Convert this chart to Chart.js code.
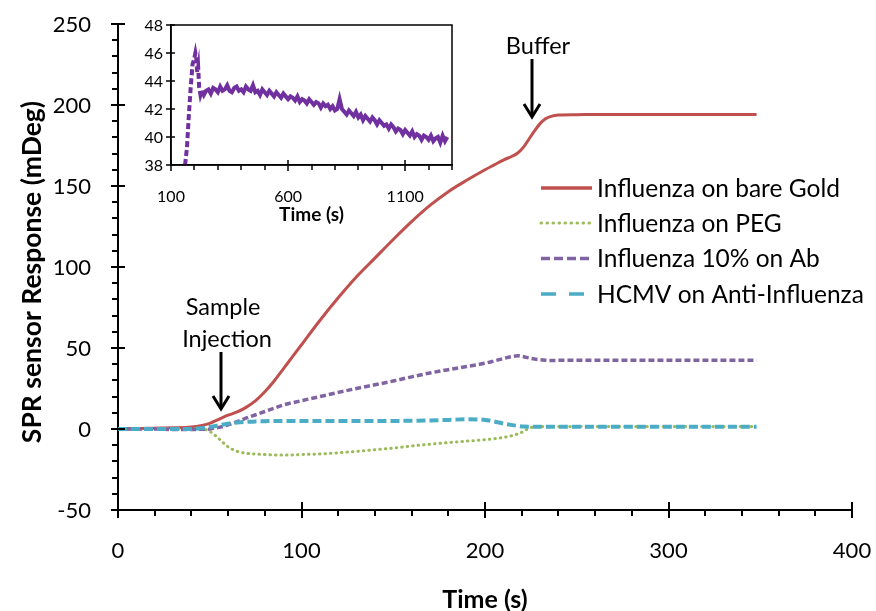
<!DOCTYPE html>
<html>
<head>
<meta charset="utf-8">
<script src="https://cdn.jsdelivr.net/npm/chart.js@4.4.1/dist/chart.umd.min.js"></script>
<style>
  html, body { margin: 0; padding: 0; background: #ffffff; }
  #wrap { position: relative; width: 876px; height: 611px; }
  #main { position: absolute; left: 0; top: 0; }
  #inset { position: absolute; left: 120px; top: 5px; }
</style>
</head>
<body>
<div id="wrap">
  <canvas id="main" width="876" height="611"></canvas>
  <canvas id="inset" width="345" height="225"></canvas>
</div>
<script>
// ---------------- DATA ----------------
const seriesNames = ["Influenza on bare Gold", "Influenza on PEG", "Influenza 10% on Ab", "HCMV on Anti-Influenza"];
const time = [0,10,20,30,40,45,50,55,60,65,70,75,80,85,90,95,100,110,120,130,140,150,160,170,180,190,200,205,210,215,218,221,224,227,230,233,236,240,250,260,280,300,320,348];
const bareGold = [0.3,0.3,0.5,0.7,1.2,2,3.5,6,8.5,10.5,13.5,17.5,23,29.5,37,44.5,52,67,81,94,105.5,117,128,138,146.5,153.5,160,163,166,168.5,170.5,174,179,184,188.5,191.5,193,193.8,194,194.2,194.2,194.2,194.2,194.2];
const peg = [0,0,0,0,0,0.3,-1.5,-6,-11,-13.8,-15,-15.5,-15.8,-16,-16,-16,-15.8,-15.4,-14.7,-13.8,-12.8,-11.8,-10.5,-9.4,-8.4,-7.5,-6.6,-6,-5.2,-4,-3,-1.5,0.5,1.3,1.5,1.5,1.5,1.5,1.5,1.5,1.5,1.5,1.5,1.5];
const ab10 = [0,0,0,-0.3,-0.3,-0.2,0,1,2.5,4.5,6.8,8.8,10.8,12.8,14.8,16.2,17.5,20,22.6,25,27.3,29.6,32.2,34.6,36.6,38.6,40.6,42,43.5,44.8,45.2,44.6,43.8,43.2,42.8,42.5,42.3,42.4,42.5,42.5,42.5,42.5,42.5,42.5];
const hcmv = [0,0,0,0,0,0.5,1.2,2.3,3.3,4,4.4,4.7,4.8,5,5,5,5,5,5,5,5,5,5.1,5.3,5.6,6,5.6,4.6,3.4,2.4,1.9,1.5,1.4,1.4,1.4,1.4,1.4,1.4,1.4,1.4,1.4,1.4,1.4,1.4];
const xTicks = [0,100,200,300,400];
const yTicks = [-50,0,50,100,150,200,250];

const insetTime = [160,168,176,184,192,198,204,208,212,216,220,226,232,240,250,260,270,280,290,300,310,320,330,340,350,360,370,380,390,400,410,420,430,440,450,460,470,480,490,500,510,520,530,540,550,560,570,580,590,600,610,620,630,640,650,660,670,680,690,700,710,720,730,740,750,760,770,780,790,800,810,820,830,840,850,860,870,880,890,900,910,920,930,940,950,960,970,980,990,1000,1010,1020,1030,1040,1050,1060,1070,1080,1090,1100,1110,1120,1130,1140,1150,1160,1170,1180,1190,1200,1210,1220,1230,1240,1250,1260,1270,1280];
const insetResp = [38,39.2,41.5,43.5,45.2,45.5,46,45.6,44.6,45,43.6,43,43.3,
  43.0,43.3,43.4,43.1,43.5,43.4,43.2,43.6,43.3,43.4,43.7,43.3,43.2,43.5,43.6,43.3,43.4,43.2,43.6,43.4,43.3,43.7,43.2,43.3,43.0,43.4,
  43.2,43.0,43.3,43.1,42.9,43.2,43.0,42.8,43.1,42.9,42.7,42.9,42.8,42.6,42.9,42.5,42.7,42.6,42.4,42.7,42.5,42.3,42.5,42.4,42.1,42.4,
  42.2,42.3,42.0,42.2,41.9,42.0,42.7,42.0,41.8,41.6,41.9,41.7,41.5,41.8,41.4,41.6,41.2,41.5,41.3,41.1,41.4,41.2,40.9,41.2,41.0,40.8,
  40.9,40.6,40.9,40.7,40.4,40.6,40.5,40.2,40.5,40.3,40.1,40.4,40.0,40.2,40.1,39.8,40.1,40.0,39.8,40.1,39.7,39.9,40.0,39.6,40.1,39.7,40.0];
const insetXTicks = [100,600,1100];
const insetYTicks = [38,40,42,44,46,48];

// ---------------- FONT FITTING ----------------
const FAM = "Lato, 'Open Sans', sans-serif";
const mctx = document.createElement('canvas').getContext('2d');
function fit(text, w, weight) {
  mctx.font = (weight || 'normal') + ' 100px ' + FAM;
  return Math.round(2 * 100 * w / mctx.measureText(text).width) / 2;
}
const tickSize = fit('250', 38);
const legendSize = fit('Influenza on bare Gold', 241);
const annSize = fit('Injection', 90);
const yTitleSize = fit('SPR sensor Response (mDeg)', 345, 'bold');
const xTitleSize = fit('Time (s)', 85, 'bold');
const insetTickSize = fit('100', 28);
const insetTitleSize = fit('Time (s)', 64, 'bold');

const cRed = '#C0504D', cGreen = '#9BBB59', cPurple = '#8064A2', cCyan = '#4BACC6';

function pts(xs, ys) { return xs.map((t, i) => ({ x: t, y: ys[i] })); }

function arrow(ctx, x, y0, y1) {
  ctx.save();
  ctx.strokeStyle = '#000'; ctx.lineWidth = 3; ctx.lineCap = 'butt'; ctx.lineJoin = 'miter';
  ctx.beginPath(); ctx.moveTo(x, y0); ctx.lineTo(x, y1 - 1); ctx.stroke();
  ctx.beginPath(); ctx.moveTo(x - 8, y1 - 13); ctx.lineTo(x, y1); ctx.lineTo(x + 8, y1 - 13); ctx.stroke();
  ctx.restore();
}

const mainDecor = {
  id: 'mainDecor',
  afterDraw(chart) {
    const { ctx, scales: { x, y } } = chart;
    ctx.save();
    ctx.strokeStyle = '#000'; ctx.lineWidth = 2;
    const ax = x.left, ay = y.bottom;
    // x ticks
    for (let v = 0; v <= 400; v += 20) {
      const p = Math.round(x.getPixelForValue(v));
      ctx.beginPath();
      if (v % 100 === 0) { ctx.moveTo(p, ay - 8); ctx.lineTo(p, ay + 8); }
      else { ctx.moveTo(p, ay); ctx.lineTo(p, ay + 6); }
      ctx.stroke();
    }
    // y ticks
    for (let v = -50; v <= 250; v += 10) {
      const p = Math.round(y.getPixelForValue(v));
      ctx.beginPath();
      if (v % 50 === 0) { ctx.moveTo(ax - 7, p); ctx.lineTo(ax + 7, p); }
      else { ctx.moveTo(ax - 6, p); ctx.lineTo(ax, p); }
      ctx.stroke();
    }
    // tick labels
    ctx.fillStyle = '#000';
    ctx.font = tickSize + 'px ' + FAM;
    ctx.textAlign = 'center'; ctx.textBaseline = 'middle';
    xTicks.forEach(v => ctx.fillText(String(v), x.getPixelForValue(v), ay + 41));
    ctx.textAlign = 'right';
    yTicks.forEach(v => ctx.fillText(String(v), ax - 27, y.getPixelForValue(v) + 1));
    // axis titles
    ctx.textAlign = 'center'; ctx.textBaseline = 'middle';
    ctx.font = 'bold ' + xTitleSize + 'px ' + FAM;
    ctx.fillText('Time (s)', (x.left + x.right) / 2, 600);
    ctx.save();
    ctx.translate(32, 272); ctx.rotate(-Math.PI / 2);
    ctx.font = 'bold ' + yTitleSize + 'px ' + FAM;
    ctx.fillText('SPR sensor Response (mDeg)', 0, 0);
    ctx.restore();
    // annotations
    ctx.font = annSize + 'px ' + FAM;
    ctx.fillText('Sample', 223, 307);
    ctx.fillText('Injection', 227, 339);
    ctx.fillText('Buffer', 538, 46);
    arrow(ctx, 221, 352, 409);
    arrow(ctx, 532, 59, 117);
    // legend
    const rows = [
      { name: seriesNames[0], y: 188, color: cRed, dash: [], w: 3.5, cap: 'butt' },
      { name: seriesNames[1], y: 223, color: cGreen, dash: [0.5, 5.5], w: 3, cap: 'round' },
      { name: seriesNames[2], y: 258.5, color: cPurple, dash: [9, 4], w: 3.5, cap: 'butt' },
      { name: seriesNames[3], y: 294, color: cCyan, dash: [15, 13], w: 3.5, cap: 'butt' }
    ];
    ctx.textAlign = 'left';
    ctx.font = legendSize + 'px ' + FAM;
    rows.forEach(r => {
      ctx.save();
      ctx.strokeStyle = r.color; ctx.lineWidth = r.w; ctx.setLineDash(r.dash); ctx.lineCap = r.cap;
      ctx.beginPath(); ctx.moveTo(541, r.y); ctx.lineTo(592, r.y); ctx.stroke();
      ctx.restore();
      ctx.fillStyle = '#000';
      ctx.fillText(r.name, 597, r.y + 1);
    });
    ctx.restore();
  }
};

new Chart(document.getElementById('main'), {
  type: 'line',
  data: {
    datasets: [
      { label: seriesNames[0], data: pts(time, bareGold), borderColor: cRed, borderWidth: 3, order: 4 },
      { label: seriesNames[1], data: pts(time, peg), borderColor: cGreen, borderWidth: 3, borderDash: [0.5, 5], borderCapStyle: 'round', order: 3 },
      { label: seriesNames[2], data: pts(time, ab10), borderColor: cPurple, borderWidth: 3.5, borderDash: [6, 3], order: 2 },
      { label: seriesNames[3], data: pts(time, hcmv), borderColor: cCyan, borderWidth: 4, borderDash: [9, 4], order: 1 }
    ]
  },
  options: {
    responsive: false, animation: false, devicePixelRatio: 1,
    layout: { autoPadding: false, padding: { top: 24, right: 24, left: 0, bottom: 0 } },
    elements: { point: { radius: 0 }, line: { cubicInterpolationMode: 'monotone', fill: false } },
    plugins: { legend: { display: false }, tooltip: { enabled: false } },
    scales: {
      x: {
        type: 'linear', min: 0, max: 400,
        afterFit: s => { s.height = 101; },
        grid: { display: true, drawOnChartArea: false, drawTicks: false },
        border: { display: true, color: '#000', width: 2 },
        ticks: { display: false }
      },
      y: {
        type: 'linear', min: -50, max: 250,
        afterFit: s => { s.width = 118; },
        grid: { display: true, drawOnChartArea: false, drawTicks: false },
        border: { display: true, color: '#000', width: 2 },
        ticks: { display: false }
      }
    }
  },
  plugins: [mainDecor]
});

const insetDecor = {
  id: 'insetDecor',
  afterDraw(chart) {
    const { ctx, chartArea: a, scales: { x, y } } = chart;
    ctx.save();
    ctx.strokeStyle = '#000'; ctx.lineWidth = 1.5;
    ctx.strokeRect(a.left, a.top, a.right - a.left, a.bottom - a.top);
    for (let v = 100; v <= 1300; v += 100) {
      const p = Math.round(x.getPixelForValue(v));
      ctx.beginPath();
      if ((v - 100) % 500 === 0) { ctx.moveTo(p, a.bottom - 5); ctx.lineTo(p, a.bottom + 6); }
      else { ctx.moveTo(p, a.bottom); ctx.lineTo(p, a.bottom + 5); }
      ctx.stroke();
    }
    for (let v = 38; v <= 48; v += 2) {
      const p = Math.round(y.getPixelForValue(v));
      ctx.beginPath(); ctx.moveTo(a.left - 5, p); ctx.lineTo(a.left + 4, p); ctx.stroke();
    }
    ctx.fillStyle = '#000'; ctx.textAlign = 'center'; ctx.textBaseline = 'middle';
    ctx.font = insetTickSize + 'px ' + FAM;
    insetXTicks.forEach(v => ctx.fillText(String(v), x.getPixelForValue(v), a.bottom + 32));
    ctx.textAlign = 'right';
    insetYTicks.forEach(v => ctx.fillText(String(v), a.left - 8, y.getPixelForValue(v) + 1));
    ctx.textAlign = 'center';
    ctx.font = 'bold ' + insetTitleSize + 'px ' + FAM;
    ctx.fillText('Time (s)', (a.left + a.right) / 2, a.bottom + 50);
    ctx.restore();
  }
};

new Chart(document.getElementById('inset'), {
  type: 'line',
  data: {
    datasets: [{
      label: 'inset', data: pts(insetTime, insetResp), borderColor: '#7030A0', borderWidth: 4,
      borderDash: [], tension: 0,
      segment: { borderDash: c => (c.p1.parsed.x <= 232 ? [6, 3] : undefined) }
    }]
  },
  options: {
    responsive: false, animation: false, devicePixelRatio: 1,
    layout: { autoPadding: false, padding: { top: 20, right: 13, left: 0, bottom: 0 } },
    elements: { point: { radius: 0 } },
    plugins: { legend: { display: false }, tooltip: { enabled: false } },
    scales: {
      x: {
        type: 'linear', min: 100, max: 1300,
        afterFit: s => { s.height = 65; },
        grid: { display: true, drawOnChartArea: false, drawTicks: false },
        border: { display: true, color: '#000', width: 1.5 },
        ticks: { display: false }
      },
      y: {
        type: 'linear', min: 38, max: 48,
        afterFit: s => { s.width = 51; },
        grid: { display: true, drawOnChartArea: false, drawTicks: false },
        border: { display: true, color: '#000', width: 1.5 },
        ticks: { display: false }
      }
    }
  },
  plugins: [insetDecor]
});
</script>
</body>
</html>
